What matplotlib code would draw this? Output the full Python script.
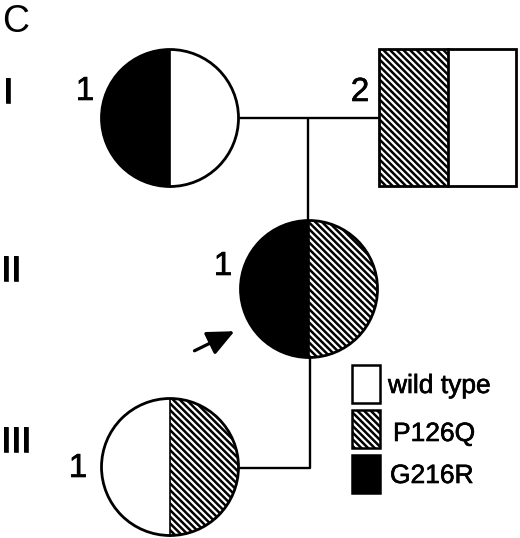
import matplotlib
matplotlib.use("Agg")
import matplotlib.pyplot as plt
import matplotlib.patheffects as pe
from matplotlib.patches import Wedge, Circle, Rectangle, FancyArrowPatch

plt.rcParams['font.family'] = ['Liberation Sans', 'DejaVu Sans']
plt.rcParams['hatch.linewidth'] = 1.8

# ---- data ----
panel_label = "C"
generations = ["I", "II", "III"]
individual_ids = ["I-1", "I-2", "II-1", "III-1"]
individual_numbers = ["1", "2", "1", "1"]
individual_sex = ["F", "M", "F", "F"]
left_allele = ["G216R", "P126Q", "G216R", "wt"]
right_allele = ["wt", "wt", "P126Q", "P126Q"]
proband = "II-1"
legend_keys = ["wt", "P126Q", "G216R"]
legend_labels = ["wild type", "P126Q", "G216R"]

# ---- layout (pixel coordinates) ----
W, H = 520, 538
centers = {"I-1": (170, 118), "I-2": (447.5, 117), "II-1": (309, 289), "III-1": (170, 467)}
R = 68.5
LW = 2.0
gen_label_pos = {"I": (3, 103), "II": (1, 281), "III": (1, 452)}
num_label_pos = {"I-1": (85, 100), "I-2": (360, 101), "II-1": (223, 275), "III-1": (78, 477)}

HATCH = "\\" * 5
styles = {
    "wt": dict(facecolor="white", hatch=None),
    "P126Q": dict(facecolor="white", hatch=HATCH),
    "G216R": dict(facecolor="black", hatch=None),
}
thick = [pe.withStroke(linewidth=0.45, foreground="black")]

fig = plt.figure(figsize=(W / 100, H / 100), dpi=100)
ax = fig.add_axes([0, 0, 1, 1])
ax.set_xlim(0, W)
ax.set_ylim(H, 0)
ax.set_aspect("equal")
ax.axis("off")

# connecting lines
line_kw = dict(color="black", lw=1.7, solid_capstyle="butt", zorder=1)
x1, y1 = centers["I-1"]
x2, y2 = centers["I-2"]
ax.plot([x1 + R, x2 - R], [y1, y1], **line_kw)
xc, yc = centers["II-1"]
ax.plot([xc - 1, xc - 1], [y1, yc - R], **line_kw)
x3, y3 = centers["III-1"]
ax.plot([xc + 1, xc + 1, x3 + R], [yc + R, y3 + 1, y3 + 1], **line_kw)

for ind, sex, la, ra in zip(individual_ids, individual_sex, left_allele, right_allele):
    cx, cy = centers[ind]
    if sex == "F":
        for allele, (t1, t2) in ((la, (90, 270)), (ra, (270, 90))):
            st = styles[allele]
            ax.add_patch(Wedge((cx, cy), R, t1, t2, facecolor=st["facecolor"],
                               hatch=st["hatch"], edgecolor="black", lw=0, zorder=2))
        ax.add_patch(Circle((cx, cy), R, facecolor="none", edgecolor="black", lw=LW, zorder=3))
        ax.plot([cx, cx], [cy - R, cy + R], color="black", lw=1.2, zorder=3)
    else:
        for allele, x0 in ((la, cx - R), (ra, cx)):
            st = styles[allele]
            ax.add_patch(Rectangle((x0, cy - R), R, 2 * R, facecolor=st["facecolor"],
                                   hatch=st["hatch"], edgecolor="black", lw=0, zorder=2))
        ax.add_patch(Rectangle((cx - R, cy - R), 2 * R, 2 * R, facecolor="none",
                               edgecolor="black", lw=LW, zorder=3))
        ax.plot([cx, cx], [cy - R, cy + R], color="black", lw=LW, zorder=3)

# labels
ax.text(2, 32, panel_label, fontsize=27, ha="left", va="baseline")
for g in generations:
    x, y = gen_label_pos[g]
    ax.text(x, y, g, fontsize=26, ha="left", va="baseline", path_effects=thick)
for ind, num in zip(individual_ids, individual_numbers):
    x, y = num_label_pos[ind]
    ax.text(x, y, num, fontsize=24, ha="center", va="baseline", path_effects=thick)

# proband arrow
ax.add_patch(FancyArrowPatch((192, 352), (237, 330), arrowstyle="-|>,head_length=11,head_width=5",
                             color="black", lw=2.3, mutation_scale=1.5, zorder=4))

# legend
key_y = [365, 410, 455]
text_x = [388, 393, 390]
text_base = [393, 441, 483]
for k, lab, ky, tx, tb in zip(legend_keys, legend_labels, key_y, text_x, text_base):
    st = styles[k]
    ax.add_patch(Rectangle((352, ky), 28, 38, facecolor=st["facecolor"], hatch=st["hatch"],
                           edgecolor="black", lw=1.8, zorder=2))
    ax.text(tx, tb, lab, fontsize=19, ha="left", va="baseline", path_effects=thick)

fig.savefig("out.png", dpi=100)
